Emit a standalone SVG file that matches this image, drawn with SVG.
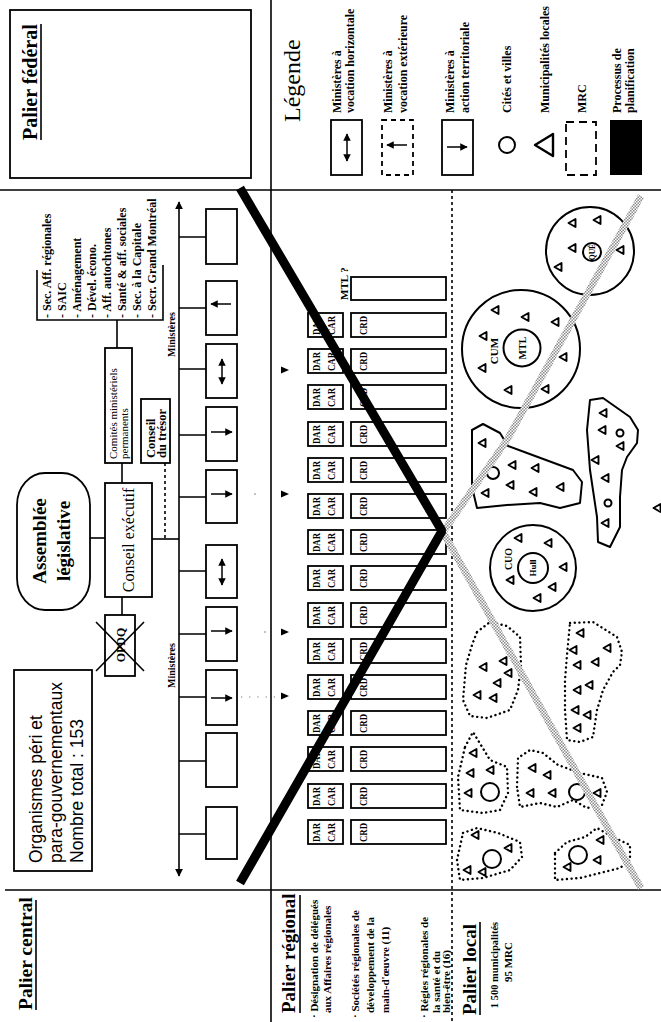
<svg xmlns="http://www.w3.org/2000/svg" xmlns:xlink="http://www.w3.org/1999/xlink" width="661" height="1022" viewBox="0 0 661 1022">
  <style>
    .ln { stroke:#000; stroke-width:1.6; fill:none; }
    .box { fill:#fff; stroke:#000; stroke-width:1.8; }
    .t { font-family:"Liberation Serif", serif; fill:#000; }
    .s { font-family:"Liberation Sans", sans-serif; fill:#000; }
    .b { font-weight:bold; }
    .tri { fill:#fff; stroke:#000; stroke-width:1.9; stroke-linejoin:round; }
    .city { fill:none; stroke:#000; stroke-width:2; }
    .zone { fill:none; stroke:#000; stroke-width:2; stroke-linejoin:round; }
    .dots { fill:none; stroke:#000; stroke-width:2.4; stroke-dasharray:0.1 4.6; stroke-linecap:round; stroke-linejoin:round; }
    .arr { stroke:#000; stroke-width:1.5; fill:none; }
    .sm { font-size:12px; font-weight:bold; }
    .reg { font-size:11px; font-weight:bold; }
  </style>
  <defs>
    <marker id="ah" viewBox="0 0 10 10" refX="9" refY="5" markerWidth="5" markerHeight="5" orient="auto-start-reverse">
      <path d="M0,0 L10,5 L0,10 Z" fill="#000"/>
    </marker>
    <pattern id="grain" width="3" height="3" patternUnits="userSpaceOnUse">
      <rect width="3" height="3" fill="#fff"/>
      <rect width="1.5" height="1.5" fill="#8a8a8a"/>
      <rect x="1.5" y="1.5" width="1.5" height="1.5" fill="#8a8a8a"/>
    </pattern>
    <path id="tri" d="M-3.5,0 L3.5,-4 L3.5,4 Z" class="tri"/>
  </defs>

  <rect width="661" height="1022" fill="#fff"/>

  <!-- frame: level dividers -->
  <g id="frame">
    <line class="ln" x1="0" y1="190" x2="661" y2="190" stroke-width="2"/>
    <line class="ln" x1="5" y1="890" x2="661" y2="890" stroke-width="2"/>
    <line class="ln" x1="271" y1="0" x2="271" y2="1022" stroke-width="2"/>
    <line class="ln" x1="452" y1="190" x2="452" y2="1022" stroke-width="2.4" stroke-dasharray="3 3"/>
  </g>

  <!-- federal level -->
  <g id="palier-federal">
    <rect class="box" x="10" y="10" width="241" height="168"/>
    <text class="t b" font-size="20" transform="translate(37,140) rotate(-90)">Palier fédéral</text>
    <line class="ln" x1="41" y1="24" x2="41" y2="140" stroke-width="1.4"/>
  </g>

  <!-- legend -->
  <g id="legende">
    <text class="t" font-size="24" transform="translate(300,122) rotate(-90)">Légende</text>
    <rect class="box" x="331" y="120" width="31" height="55"/>
    <line class="arr" x1="347" y1="134" x2="347" y2="161" marker-start="url(#ah)" marker-end="url(#ah)"/>
    <text class="t sm" transform="translate(341,113) rotate(-90)">Ministères à</text>
    <text class="t sm" transform="translate(354,113) rotate(-90)">vocation horizontale</text>

    <rect class="box" x="382" y="120" width="31" height="55" stroke-width="2.2" stroke-dasharray="5 4"/>
    <line class="arr" x1="407" y1="145" x2="387" y2="145" marker-end="url(#ah)"/>
    <text class="t sm" transform="translate(392,113) rotate(-90)">Ministères à</text>
    <text class="t sm" transform="translate(407,113) rotate(-90)">vocation extérieure</text>

    <rect class="box" x="442" y="120" width="31" height="55"/>
    <line class="arr" x1="447" y1="147" x2="467" y2="147" marker-end="url(#ah)"/>
    <text class="t sm" transform="translate(454,113) rotate(-90)">Ministères à</text>
    <text class="t sm" transform="translate(469,113) rotate(-90)">action territoriale</text>

    <circle class="city" cx="507" cy="145" r="8"/>
    <text class="t sm" transform="translate(511,113) rotate(-90)">Cités et villes</text>

    <path d="M535,145 L553,134 L553,156 Z" fill="#fff" stroke="#000" stroke-width="2.4" stroke-linejoin="round"/>
    <text class="t sm" transform="translate(549,113) rotate(-90)">Municipalités locales</text>

    <rect x="566" y="122" width="30" height="53" fill="none" stroke="#000" stroke-width="1.8" stroke-dasharray="8 5"/>
    <text class="t sm" transform="translate(586,113) rotate(-90)">MRC</text>

    <rect x="610" y="120" width="32" height="55" fill="#000"/>
    <text class="t sm" transform="translate(621,113) rotate(-90)">Processus de</text>
    <text class="t sm" transform="translate(634,113) rotate(-90)">planification</text>
  </g>

  <!-- central level -->
  <g id="palier-central">
    <text class="t b" font-size="19.5" transform="translate(32,1010) rotate(-90)">Palier central</text>
    <line class="ln" x1="36" y1="900" x2="36" y2="1010" stroke-width="1.4"/>
  </g>

  <g id="organismes">
    <rect class="box" x="14" y="670" width="78" height="201" stroke-width="1.5"/>
    <text class="s" font-size="17.5" transform="translate(42,863) rotate(-90)">Organismes péri et</text>
    <text class="s" font-size="17.5" transform="translate(62,863) rotate(-90)">para-gouvernementaux</text>
    <text class="s" font-size="17.5" transform="translate(83,863) rotate(-90)">Nombre total : 153</text>
  </g>

  <g id="assemblee">
    <rect class="box" x="17" y="473" width="73" height="137" rx="28" ry="32"/>
    <text class="t b" font-size="19" text-anchor="middle" transform="translate(46,541) rotate(-90)">Assemblée</text>
    <text class="t b" font-size="19" text-anchor="middle" transform="translate(70,541) rotate(-90)">législative</text>
  </g>

  <g id="conseil-executif">
    <rect class="box" x="105" y="483" width="47" height="114"/>
    <text class="t" font-size="16" text-anchor="middle" transform="translate(134,540) rotate(-90)">Conseil exécutif</text>
  </g>

  <g id="comites">
    <rect class="box" x="105" y="348" width="27" height="115"/>
    <text class="t" font-size="11" transform="translate(117,459) rotate(-90)">Comités ministériels</text>
    <text class="t" font-size="11" transform="translate(128,459) rotate(-90)">permanents</text>
  </g>

  <g id="conseil-tresor">
    <rect class="box" x="141" y="399" width="29" height="64"/>
    <text class="t b" font-size="12.5" transform="translate(155,458) rotate(-90)">Conseil</text>
    <text class="t b" font-size="12.5" transform="translate(166,458) rotate(-90)">du trésor</text>
  </g>

  <g id="opdq">
    <rect class="box" x="105" y="615" width="30" height="61"/>
    <text class="t b" font-size="12" text-anchor="middle" transform="translate(125,645) rotate(-90)">OPDQ</text>
    <line class="ln" x1="96" y1="622" x2="144" y2="671" stroke-width="2.6"/>
    <line class="ln" x1="96" y1="671" x2="144" y2="622" stroke-width="2.6"/>
  </g>

  <g id="secretariats">
    <text class="t sm" transform="translate(51,318) rotate(-90)">- Sec. Aff. régionales</text>
    <text class="t sm" transform="translate(66,318) rotate(-90)">- SAIC</text>
    <text class="t sm" transform="translate(81,318) rotate(-90)">- Aménagement</text>
    <text class="t sm" transform="translate(96,318) rotate(-90)">- Dével. écono.</text>
    <text class="t sm" transform="translate(111,318) rotate(-90)">- Aff. autochtones</text>
    <text class="t sm" transform="translate(126,318) rotate(-90)">- Santé &amp; aff. sociales</text>
    <text class="t sm" transform="translate(141,318) rotate(-90)">- Sec. à la Capitale</text>
    <text class="t sm" transform="translate(156,318) rotate(-90)">- Secr. Grand Montréal</text>
  </g>

  <!-- ministries -->
  <g id="ministeres">
    <line class="ln" x1="179" y1="202" x2="179" y2="876" stroke-width="1.8" marker-start="url(#ah)" marker-end="url(#ah)"/>
    <text class="t b" font-size="10" transform="translate(175,357) rotate(-90)">Ministères</text>
    <text class="t b" font-size="10" transform="translate(175,688) rotate(-90)">Ministères</text>
  </g>
  <g id="min-1"><rect class="box" x="206" y="209" width="31" height="55"/></g>
  <g id="min-2"><rect class="box" x="206" y="281" width="31" height="54"/>
    <line class="arr" x1="231" y1="304" x2="211" y2="304" marker-end="url(#ah)"/></g>
  <g id="min-3"><rect class="box" x="206" y="344" width="31" height="54"/>
    <line class="arr" x1="222" y1="359" x2="222" y2="384" marker-start="url(#ah)" marker-end="url(#ah)"/></g>
  <g id="min-4"><rect class="box" x="206" y="407" width="31" height="54"/>
    <line class="arr" x1="211" y1="432" x2="232" y2="432" marker-end="url(#ah)"/></g>
  <g id="min-5"><rect class="box" x="206" y="470" width="31" height="53"/>
    <line class="arr" x1="211" y1="494" x2="232" y2="494" marker-end="url(#ah)"/></g>
  <g id="min-6"><rect class="box" x="206" y="545" width="31" height="53"/>
    <line class="arr" x1="222" y1="559" x2="222" y2="585" marker-start="url(#ah)" marker-end="url(#ah)"/></g>
  <g id="min-7"><rect class="box" x="206" y="607" width="31" height="54"/>
    <line class="arr" x1="211" y1="631" x2="232" y2="631" marker-end="url(#ah)"/></g>
  <g id="min-8"><rect class="box" x="206" y="670" width="31" height="55"/>
    <line class="arr" x1="211" y1="698" x2="232" y2="698" marker-end="url(#ah)"/></g>
  <g id="min-9"><rect class="box" x="206" y="733" width="31" height="54"/></g>
  <g id="min-10"><rect class="box" x="206" y="807" width="31" height="52"/></g>

  <!-- regional level -->
  <g id="palier-regional">
    <text class="t b" font-size="19" transform="translate(295,1013) rotate(-90)">Palier régional</text>
    <line class="ln" x1="300" y1="895" x2="300" y2="1013" stroke-width="1.4"/>
    <text class="t reg" transform="translate(318,1018) rotate(-90)">· Désignation de délégués</text>
    <text class="t reg" transform="translate(331,1013) rotate(-90)">aux Affaires régionales</text>
    <text class="t reg" transform="translate(359,1018) rotate(-90)">· Sociétés régionales de</text>
    <text class="t reg" transform="translate(374,1013) rotate(-90)">développement de la</text>
    <text class="t reg" transform="translate(389,1013) rotate(-90)">main-d'œuvre (11)</text>
    <text class="t reg" transform="translate(428,1018) rotate(-90)">· Régies régionales de</text>
    <text class="t reg" transform="translate(440,1013) rotate(-90)">la santé et du</text>
    <text class="t reg" transform="translate(450,1013) rotate(-90)">bien-être (16)</text>
  </g>

  <g id="mtl">
    <rect class="box" x="351" y="277" width="95" height="23" stroke-width="1.6"/>
    <text class="t reg" transform="translate(348,300) rotate(-90)">MTL ?</text>
  </g>

  <g id="regions" font-size="11" font-weight="bold">
    <g id="region-01"><rect class="box" x="308" y="313" width="35" height="24" stroke-width="1.6"/><rect class="box" x="351" y="313" width="95" height="24" stroke-width="1.6"/>
      <text class="t" textLength="19" lengthAdjust="spacingAndGlyphs" transform="translate(320,335) rotate(-90)">DAR</text><text class="t" textLength="19" lengthAdjust="spacingAndGlyphs" transform="translate(335,335) rotate(-90)">CAR</text><text class="t" textLength="19" lengthAdjust="spacingAndGlyphs" transform="translate(367,335) rotate(-90)">CRD</text></g>
    <g id="region-02"><rect class="box" x="308" y="349" width="35" height="24" stroke-width="1.6"/><rect class="box" x="351" y="349" width="95" height="24" stroke-width="1.6"/>
      <text class="t" textLength="19" lengthAdjust="spacingAndGlyphs" transform="translate(320,371) rotate(-90)">DAR</text><text class="t" textLength="19" lengthAdjust="spacingAndGlyphs" transform="translate(335,371) rotate(-90)">CAR</text><text class="t" textLength="19" lengthAdjust="spacingAndGlyphs" transform="translate(367,371) rotate(-90)">CRD</text></g>
    <g id="region-03"><rect class="box" x="308" y="385" width="35" height="24" stroke-width="1.6"/><rect class="box" x="351" y="385" width="95" height="24" stroke-width="1.6"/>
      <text class="t" textLength="19" lengthAdjust="spacingAndGlyphs" transform="translate(320,407) rotate(-90)">DAR</text><text class="t" textLength="19" lengthAdjust="spacingAndGlyphs" transform="translate(335,407) rotate(-90)">CAR</text><text class="t" textLength="19" lengthAdjust="spacingAndGlyphs" transform="translate(367,407) rotate(-90)">CRD</text></g>
    <g id="region-04"><rect class="box" x="308" y="422" width="35" height="24" stroke-width="1.6"/><rect class="box" x="351" y="422" width="95" height="24" stroke-width="1.6"/>
      <text class="t" textLength="19" lengthAdjust="spacingAndGlyphs" transform="translate(320,444) rotate(-90)">DAR</text><text class="t" textLength="19" lengthAdjust="spacingAndGlyphs" transform="translate(335,444) rotate(-90)">CAR</text><text class="t" textLength="19" lengthAdjust="spacingAndGlyphs" transform="translate(367,444) rotate(-90)">CRD</text></g>
    <g id="region-05"><rect class="box" x="308" y="458" width="35" height="24" stroke-width="1.6"/><rect class="box" x="351" y="458" width="95" height="24" stroke-width="1.6"/>
      <text class="t" textLength="19" lengthAdjust="spacingAndGlyphs" transform="translate(320,480) rotate(-90)">DAR</text><text class="t" textLength="19" lengthAdjust="spacingAndGlyphs" transform="translate(335,480) rotate(-90)">CAR</text><text class="t" textLength="19" lengthAdjust="spacingAndGlyphs" transform="translate(367,480) rotate(-90)">CRD</text></g>
    <g id="region-06"><rect class="box" x="308" y="494" width="35" height="24" stroke-width="1.6"/><rect class="box" x="351" y="494" width="95" height="24" stroke-width="1.6"/>
      <text class="t" textLength="19" lengthAdjust="spacingAndGlyphs" transform="translate(320,516) rotate(-90)">DAR</text><text class="t" textLength="19" lengthAdjust="spacingAndGlyphs" transform="translate(335,516) rotate(-90)">CAR</text><text class="t" textLength="19" lengthAdjust="spacingAndGlyphs" transform="translate(367,516) rotate(-90)">CRD</text></g>
    <g id="region-07"><rect class="box" x="308" y="530" width="35" height="24" stroke-width="1.6"/><rect class="box" x="351" y="530" width="95" height="24" stroke-width="1.6"/>
      <text class="t" textLength="19" lengthAdjust="spacingAndGlyphs" transform="translate(320,552) rotate(-90)">DAR</text><text class="t" textLength="19" lengthAdjust="spacingAndGlyphs" transform="translate(335,552) rotate(-90)">CAR</text><text class="t" textLength="19" lengthAdjust="spacingAndGlyphs" transform="translate(367,552) rotate(-90)">CRD</text></g>
    <g id="region-08"><rect class="box" x="308" y="566" width="35" height="24" stroke-width="1.6"/><rect class="box" x="351" y="566" width="95" height="24" stroke-width="1.6"/>
      <text class="t" textLength="19" lengthAdjust="spacingAndGlyphs" transform="translate(320,588) rotate(-90)">DAR</text><text class="t" textLength="19" lengthAdjust="spacingAndGlyphs" transform="translate(335,588) rotate(-90)">CAR</text><text class="t" textLength="19" lengthAdjust="spacingAndGlyphs" transform="translate(367,588) rotate(-90)">CRD</text></g>
    <g id="region-09"><rect class="box" x="308" y="603" width="35" height="24" stroke-width="1.6"/><rect class="box" x="351" y="603" width="95" height="24" stroke-width="1.6"/>
      <text class="t" textLength="19" lengthAdjust="spacingAndGlyphs" transform="translate(320,625) rotate(-90)">DAR</text><text class="t" textLength="19" lengthAdjust="spacingAndGlyphs" transform="translate(335,625) rotate(-90)">CAR</text><text class="t" textLength="19" lengthAdjust="spacingAndGlyphs" transform="translate(367,625) rotate(-90)">CRD</text></g>
    <g id="region-10"><rect class="box" x="308" y="639" width="35" height="24" stroke-width="1.6"/><rect class="box" x="351" y="639" width="95" height="24" stroke-width="1.6"/>
      <text class="t" textLength="19" lengthAdjust="spacingAndGlyphs" transform="translate(320,661) rotate(-90)">DAR</text><text class="t" textLength="19" lengthAdjust="spacingAndGlyphs" transform="translate(335,661) rotate(-90)">CAR</text><text class="t" textLength="19" lengthAdjust="spacingAndGlyphs" transform="translate(367,661) rotate(-90)">CRD</text></g>
    <g id="region-11"><rect class="box" x="308" y="675" width="35" height="24" stroke-width="1.6"/><rect class="box" x="351" y="675" width="95" height="24" stroke-width="1.6"/>
      <text class="t" textLength="19" lengthAdjust="spacingAndGlyphs" transform="translate(320,697) rotate(-90)">DAR</text><text class="t" textLength="19" lengthAdjust="spacingAndGlyphs" transform="translate(335,697) rotate(-90)">CAR</text><text class="t" textLength="19" lengthAdjust="spacingAndGlyphs" transform="translate(367,697) rotate(-90)">CRD</text></g>
    <g id="region-12"><rect class="box" x="308" y="711" width="35" height="24" stroke-width="1.6"/><rect class="box" x="351" y="711" width="95" height="24" stroke-width="1.6"/>
      <text class="t" textLength="19" lengthAdjust="spacingAndGlyphs" transform="translate(320,733) rotate(-90)">DAR</text><text class="t" textLength="19" lengthAdjust="spacingAndGlyphs" transform="translate(335,733) rotate(-90)">CAR</text><text class="t" textLength="19" lengthAdjust="spacingAndGlyphs" transform="translate(367,733) rotate(-90)">CRD</text></g>
    <g id="region-13"><rect class="box" x="308" y="747" width="35" height="24" stroke-width="1.6"/><rect class="box" x="351" y="747" width="95" height="24" stroke-width="1.6"/>
      <text class="t" textLength="19" lengthAdjust="spacingAndGlyphs" transform="translate(320,769) rotate(-90)">DAR</text><text class="t" textLength="19" lengthAdjust="spacingAndGlyphs" transform="translate(335,769) rotate(-90)">CAR</text><text class="t" textLength="19" lengthAdjust="spacingAndGlyphs" transform="translate(367,769) rotate(-90)">CRD</text></g>
    <g id="region-14"><rect class="box" x="308" y="784" width="35" height="24" stroke-width="1.6"/><rect class="box" x="351" y="784" width="95" height="24" stroke-width="1.6"/>
      <text class="t" textLength="19" lengthAdjust="spacingAndGlyphs" transform="translate(320,806) rotate(-90)">DAR</text><text class="t" textLength="19" lengthAdjust="spacingAndGlyphs" transform="translate(335,806) rotate(-90)">CAR</text><text class="t" textLength="19" lengthAdjust="spacingAndGlyphs" transform="translate(367,806) rotate(-90)">CRD</text></g>
    <g id="region-15"><rect class="box" x="308" y="820" width="35" height="24" stroke-width="1.6"/><rect class="box" x="351" y="820" width="95" height="24" stroke-width="1.6"/>
      <text class="t" textLength="19" lengthAdjust="spacingAndGlyphs" transform="translate(320,842) rotate(-90)">DAR</text><text class="t" textLength="19" lengthAdjust="spacingAndGlyphs" transform="translate(335,842) rotate(-90)">CAR</text><text class="t" textLength="19" lengthAdjust="spacingAndGlyphs" transform="translate(367,842) rotate(-90)">CRD</text></g>
  </g>

  <!-- local level -->
  <g id="palier-local">
    <text class="t b" font-size="19" transform="translate(476,1015) rotate(-90)">Palier local</text>
    <line class="ln" x1="480" y1="922" x2="480" y2="1015" stroke-width="1.4"/>
    <text class="t" font-size="10.5" font-weight="bold" text-anchor="middle" transform="translate(498,965) rotate(-90)">1 500 municipalités</text>
    <text class="t" font-size="11" font-weight="bold" text-anchor="middle" transform="translate(512,962) rotate(-90)">95 MRC</text>
  </g>

  <g id="cuq">
    <circle class="city" cx="590" cy="251" r="44"/>
    <circle class="city" cx="592" cy="252" r="9"/>
    <text class="t b" font-size="7.5" text-anchor="middle" transform="translate(595,252) rotate(-90)">QUÉ</text>
    <use href="#tri" x="572" y="223"/><use href="#tri" x="597" y="220"/><use href="#tri" x="572" y="248"/>
    <use href="#tri" x="620" y="250"/><use href="#tri" x="558" y="267"/>
  </g>

  <g id="cum">
    <circle class="city" cx="521" cy="349" r="59"/>
    <circle class="city" cx="522" cy="348" r="18.5"/>
    <text class="t b" font-size="10" text-anchor="middle" transform="translate(526,348) rotate(-90)">MTL</text>
    <text class="t b" font-size="11" text-anchor="middle" transform="translate(498,351) rotate(-90)">CUM</text>
    <use href="#tri" x="495" y="310"/><use href="#tri" x="525" y="317"/><use href="#tri" x="555" y="322"/>
    <use href="#tri" x="483" y="336"/><use href="#tri" x="482" y="368"/><use href="#tri" x="563" y="357"/>
    <use href="#tri" x="508" y="390"/><use href="#tri" x="545" y="389"/>
  </g>

  <g id="zone-c">
    <path class="zone" d="M472,430 L483,424 L500,433 L508,446 L527,453 L573,470 L582,482 L580,503 L560,508 L540,503 L507,505 L477,508 L472,487 Z"/>
    <circle class="city" cx="493" cy="473" r="6"/>
    <use href="#tri" x="482" y="443"/><use href="#tri" x="512" y="465"/><use href="#tri" x="535" y="468"/>
    <use href="#tri" x="510" y="485"/><use href="#tri" x="485" y="493"/><use href="#tri" x="533" y="492"/>
    <use href="#tri" x="560" y="487"/>
  </g>

  <g id="zone-d">
    <path class="zone" d="M590,400 L603,398 L630,417 L638,430 L637,443 L627,457 L622,470 L620,497 L620,527 L610,547 L598,542 L597,517 L590,470 L587,430 Z"/>
    <circle class="city" cx="620" cy="433" r="3.5"/>
    <circle class="city" cx="608" cy="503" r="3.5"/>
    <use href="#tri" x="603" y="413"/><use href="#tri" x="602" y="430"/><use href="#tri" x="620" y="446"/>
    <use href="#tri" x="595" y="460"/><use href="#tri" x="605" y="478"/><use href="#tri" x="605" y="523"/>
  </g>

  <g id="municipalite-isolee"><use href="#tri" x="657" y="508"/></g>

  <g id="cuo">
    <circle class="city" cx="533" cy="568" r="43"/>
    <circle class="city" cx="533" cy="568" r="15"/>
    <text class="t b" font-size="9" text-anchor="middle" transform="translate(536,568) rotate(-90)">Hull</text>
    <text class="t b" font-size="10" text-anchor="middle" transform="translate(512,559) rotate(-90)">CUO</text>
    <use href="#tri" x="518" y="538"/><use href="#tri" x="548" y="543"/><use href="#tri" x="563" y="567"/>
    <use href="#tri" x="510" y="580"/><use href="#tri" x="552" y="587"/><use href="#tri" x="537" y="598"/>
  </g>

  <g id="mrc-f">
    <path class="dots" d="M477,632 L490,622 L507,626 L520,637 L521,665 L518,690 L510,710 L487,718 L470,716 L463,700 L466,665 L472,645 Z"/>
    <use href="#tri" x="483" y="667"/><use href="#tri" x="503" y="661"/><use href="#tri" x="508" y="673"/>
    <use href="#tri" x="497" y="683"/><use href="#tri" x="477" y="695"/><use href="#tri" x="493" y="698"/>
  </g>
  <g id="mrc-g">
    <path class="dots" d="M570,623 L593,622 L617,637 L622,652 L620,665 L613,672 L603,690 L597,710 L593,737 L580,742 L567,740 L565,710 L565,680 L567,655 Z"/>
    <use href="#tri" x="580" y="633"/><use href="#tri" x="607" y="648"/><use href="#tri" x="573" y="650"/>
    <use href="#tri" x="595" y="662"/><use href="#tri" x="577" y="665"/><use href="#tri" x="577" y="690"/>
    <use href="#tri" x="589" y="685"/><use href="#tri" x="575" y="710"/><use href="#tri" x="587" y="715"/>
    <use href="#tri" x="577" y="728"/>
  </g>
  <g id="mrc-h">
    <path class="dots" d="M465,747 L473,732 L490,760 L507,767 L508,793 L500,810 L483,813 L460,810 L458,777 Z"/>
    <circle class="city" cx="490" cy="792" r="9"/>
    <use href="#tri" x="473" y="753"/><use href="#tri" x="490" y="770"/><use href="#tri" x="470" y="773"/>
    <use href="#tri" x="468" y="793"/>
  </g>
  <g id="mrc-i">
    <path class="dots" d="M517,787 L518,758 L530,750 L543,753 L558,765 L580,773 L602,778 L607,792 L602,805 L587,808 L573,800 L557,807 L540,803 L520,807 Z"/>
    <circle class="city" cx="577" cy="792" r="8"/>
    <use href="#tri" x="532" y="768"/><use href="#tri" x="547" y="775"/><use href="#tri" x="530" y="793"/>
    <use href="#tri" x="552" y="793"/><use href="#tri" x="597" y="793"/>
  </g>
  <g id="mrc-j">
    <path class="dots" d="M463,833 L477,828 L498,833 L520,842 L522,857 L510,870 L483,878 L460,880 L457,860 Z"/>
    <circle class="city" cx="492" cy="859" r="9"/>
    <use href="#tri" x="475" y="835"/><use href="#tri" x="508" y="848"/><use href="#tri" x="467" y="870"/>
    <use href="#tri" x="482" y="872"/>
  </g>
  <g id="mrc-k">
    <path class="dots" d="M555,853 L567,842 L585,837 L597,828 L613,837 L630,845 L630,860 L620,868 L600,873 L580,878 L555,880 Z"/>
    <circle class="city" cx="578" cy="855" r="9"/>
    <use href="#tri" x="567" y="867"/><use href="#tri" x="597" y="860"/><use href="#tri" x="600" y="840"/>
  </g>

  <!-- connectors -->
  <g id="connectors">
    <path class="ln" d="M37,270 V320 H163 V265 M117,320 V348"/>
    <line class="ln" x1="122" y1="463" x2="122" y2="483"/>
    <line class="ln" x1="90" y1="538" x2="105" y2="538"/>
    <line class="ln" x1="122" y1="597" x2="122" y2="615"/>
    <line class="ln" x1="152" y1="539" x2="179" y2="539"/>
    <line class="ln" x1="165" y1="463" x2="165" y2="539" stroke-dasharray="3 3"/>
    <path class="ln" d="M179,237 H206 M179,308 H206 M179,369 H206 M179,435 H206 M179,497 H206 M179,571 H206 M179,634 H206 M179,697 H206 M179,761 H206 M179,834 H206"/>
    <path d="M241,697 H278" stroke="#777" stroke-width="1.2" stroke-dasharray="1.2 7" fill="none"/>
    <path d="M254,494 H256 M264,632 H266" stroke="#888" stroke-width="1.2" fill="none"/>
    <path d="M281,366.5 L289,370 L281,373.5 Z M281,490.5 L289,494 L281,497.5 Z M281,628.5 L289,632 L281,635.5 Z M281,692.5 L289,696 L281,699.5 Z" fill="#000"/>
  </g>

  <!-- planning process -->
  <g id="processus">
    <path d="M443,532 L507,440 L641,196 M443,532 L641,888" fill="none" stroke="url(#grain)" stroke-width="7"/>
    <path d="M240,188 L442,531 L240,883" fill="none" stroke="#000" stroke-width="9" stroke-linejoin="bevel"/>
  </g>
</svg>
